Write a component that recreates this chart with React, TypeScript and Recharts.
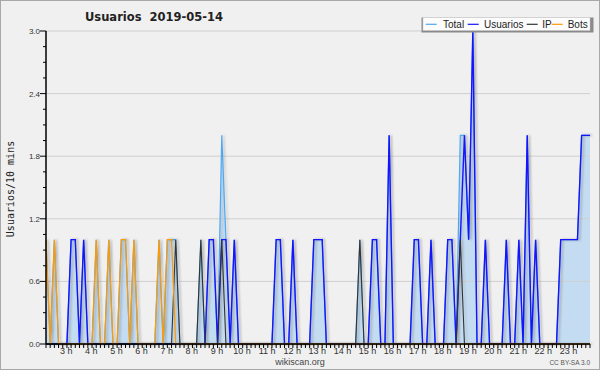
import React from 'react';
import { ComposedChart, Area, Line, XAxis, YAxis, ReferenceLine } from 'recharts';

// 10-minute samples from 02:20 to 24:00 (minutes since midnight)
const startMinute = 140;
const stepMinutes = 10;

const totalValues = [
  1, 0, 1, 0, 0, 0, 1, 1, 0, 1,
  0, 0, 1, 0, 0, 1, 0, 0, 1, 1,
  0, 1, 0, 0, 0, 0, 0, 1, 0, 1,
  1, 1, 0, 0, 0, 0, 0, 1, 0, 1,
  1, 0, 2, 1, 0, 1, 0, 0, 0, 0,
  0, 0, 0, 0, 0, 1, 1, 0, 0, 1,
  0, 0, 0, 0, 1, 1, 1, 0, 0, 0,
  0, 0, 0, 0, 0, 1, 0, 0, 1, 1,
  0, 0, 2, 0, 0, 0, 0, 0, 1, 1,
  0, 0, 1, 0, 0, 0, 1, 1, 0, 2,
  2, 1, 3, 0, 0, 1, 0, 0, 0, 0,
  1, 0, 0, 1, 0, 2, 0, 1, 0, 0,
  0, 0, 0, 1, 1, 1, 1, 1, 2, 2,
  2,
];

const usuariosValues = [
  0, 0, 0, 0, 0, 0, 1, 1, 0, 1,
  0, 0, 0, 0, 0, 0, 0, 0, 0, 0,
  0, 0, 0, 0, 0, 0, 0, 0, 0, 0,
  0, 0, 0, 0, 0, 0, 0, 0, 0, 1,
  1, 0, 1, 1, 0, 1, 0, 0, 0, 0,
  0, 0, 0, 0, 0, 1, 1, 0, 0, 1,
  0, 0, 0, 0, 1, 1, 1, 0, 0, 0,
  0, 0, 0, 0, 0, 0, 0, 0, 1, 1,
  0, 0, 2, 0, 0, 0, 0, 0, 1, 1,
  0, 0, 1, 0, 0, 0, 1, 1, 0, 1,
  2, 1, 3, 0, 0, 1, 0, 0, 0, 0,
  1, 0, 0, 1, 0, 2, 0, 1, 0, 0,
  0, 0, 0, 1, 1, 1, 1, 1, 2, 2,
  2,
];

const ipValues = [
  0, 0, 0, 0, 0, 0, 0, 0, 0, 0,
  0, 0, 0, 0, 0, 0, 0, 0, 0, 0,
  0, 0, 0, 0, 0, 0, 0, 0, 0, 0,
  0, 1, 0, 0, 0, 0, 0, 1, 0, 0,
  0, 0, 1, 0, 0, 0, 0, 0, 0, 0,
  0, 0, 0, 0, 0, 0, 0, 0, 0, 0,
  0, 0, 0, 0, 0, 0, 0, 0, 0, 0,
  0, 0, 0, 0, 0, 1, 0, 0, 0, 0,
  0, 0, 0, 0, 0, 0, 0, 0, 0, 0,
  0, 0, 0, 0, 0, 0, 0, 0, 0, 1,
  0, 0, 0, 0, 0, 0, 0, 0, 0, 0,
  0, 0, 0, 0, 0, 0, 0, 0, 0, 0,
  0, 0, 0, 0, 0, 0, 0, 0, 0, 0,
  0,
];

const botsValues = [
  1, 0, 1, 0, 0, 0, 0, 0, 0, 0,
  0, 0, 1, 0, 0, 1, 0, 0, 1, 1,
  0, 1, 0, 0, 0, 0, 0, 1, 0, 1,
  1, 0, 0, 0, 0, 0, 0, 0, 0, 0,
  0, 0, 0, 0, 0, 0, 0, 0, 0, 0,
  0, 0, 0, 0, 0, 0, 0, 0, 0, 0,
  0, 0, 0, 0, 0, 0, 0, 0, 0, 0,
  0, 0, 0, 0, 0, 0, 0, 0, 0, 0,
  0, 0, 0, 0, 0, 0, 0, 0, 0, 0,
  0, 0, 0, 0, 0, 0, 0, 0, 0, 0,
  0, 0, 0, 0, 0, 0, 0, 0, 0, 0,
  0, 0, 0, 0, 0, 0, 0, 0, 0, 0,
  0, 0, 0, 0, 0, 0, 0, 0, 0, 0,
  0,
];

const hourTicks = [180, 240, 300, 360, 420, 480, 540, 600, 660, 720, 780, 840, 900, 960, 1020, 1080, 1140, 1200, 1260, 1320, 1380];
const hourLabels = ['3 h', '4 h', '5 h', '6 h', '7 h', '8 h', '9 h', '10 h', '11 h', '12 h', '13 h', '14 h', '15 h', '16 h', '17 h', '18 h', '19 h', '20 h', '21 h', '22 h', '23 h'];

const yTicks = [0, 0.15, 0.3, 0.45, 0.6, 0.75, 0.9, 1.05, 1.2, 1.35, 1.5, 1.65, 1.8, 1.95, 2.1, 2.25, 2.4, 2.55, 2.7, 2.85, 3.0];
const yMajorTicks = [0, 0.6, 1.2, 1.8, 2.4, 3.0];
const yTickLabels = ['0.0', '0.6', '1.2', '1.8', '2.4', '3.0'];
const gridValues = [0.6, 1.2, 1.8, 2.4, 3.0];

const seriesNames = ['Total', 'Usuarios', 'IP', 'Bots'];
const seriesColors = ['#4fa8f2', '#1414ff', '#333333', '#ff9a00'];

const times = totalValues.map((_, i) => startMinute + stepMinutes * i);
const data = times.map((t, i) => ({
  t,
  total: totalValues[i],
  usuarios: usuariosValues[i],
  ip: ipValues[i],
  bots: botsValues[i],
}));

const SANS = '"Liberation Sans", Arial, sans-serif';

function XTick(props: any) {
  const { x, y, payload } = props;
  const idx = hourTicks.indexOf(payload.value);
  return (
    <g>
      <line x1={x} x2={x} y1={y} y2={y + 4} stroke="#000" strokeWidth={1} />
      {idx >= 0 && (
        <text x={x + 3.5} y={y + 9.5} textAnchor="middle" fontSize={9} fill="#333" fontFamily={SANS}>
          {hourLabels[idx]}
        </text>
      )}
    </g>
  );
}

function YTick(props: any) {
  const { x, y, payload } = props;
  const v = payload.value;
  const idx = yMajorTicks.findIndex((m) => Math.abs(m - v) < 1e-6);
  const major = idx >= 0;
  return (
    <g>
      <line x1={x - (major ? 6 : 3)} x2={x} y1={y} y2={y} stroke="#000" strokeWidth={1} />
      {major && (
        <text x={x - 6} y={y + 3} textAnchor="end" fontSize={8} fill="#333" fontFamily={SANS}>
          {yTickLabels[idx]}
        </text>
      )}
    </g>
  );
}

const shadow = 'drop-shadow(2px 0.5px 1px rgba(110,110,110,0.3))';

export default function App() {
  const legendX = [425.7, 467.7, 526.7, 551.7];
  const legendTextX = [443, 484, 542.3, 567.7];
  return (
    <div style={{ position: 'absolute', left: 0, top: 0, width: 600, height: 370, background: '#f0f0f0', overflow: 'hidden' }}>
      <ComposedChart width={600} height={370} data={data} margin={{ top: 31, right: 10, bottom: 0, left: 0 }}>
        <XAxis
          dataKey="t"
          type="number"
          domain={[startMinute, 1440]}
          ticks={times}
          interval={0}
          tick={<XTick />}
          tickLine={false}
          tickSize={0}
          tickMargin={0}
          height={26}
          axisLine={{ stroke: '#000', strokeWidth: 1.5 }}
        />
        <YAxis
          type="number"
          domain={[0, 3]}
          ticks={yTicks}
          interval={0}
          tick={<YTick />}
          tickLine={false}
          tickSize={0}
          tickMargin={0}
          width={46}
          axisLine={{ stroke: '#000', strokeWidth: 1.5 }}
        />
        {gridValues.map((v) => (
          <ReferenceLine key={v} y={v} stroke="#cfcfcf" strokeWidth={1} />
        ))}
        <Area dataKey="total" type="linear" stroke="none" fill="#c4dcf1" fillOpacity={1} isAnimationActive={false} />
        <Line dataKey="total" type="linear" stroke={seriesColors[0]} strokeWidth={1.2} dot={false} isAnimationActive={false} style={{ filter: shadow }} />
        <Line dataKey="usuarios" type="linear" stroke={seriesColors[1]} strokeWidth={1.4} dot={false} isAnimationActive={false} style={{ filter: shadow }} />
        <Line dataKey="ip" type="linear" stroke={seriesColors[2]} strokeWidth={1.1} dot={false} isAnimationActive={false} style={{ filter: shadow }} />
        <Line dataKey="bots" type="linear" stroke={seriesColors[3]} strokeWidth={1.2} dot={false} isAnimationActive={false} style={{ filter: shadow }} />
      </ComposedChart>
      <svg width={600} height={370} style={{ position: 'absolute', left: 0, top: 0, pointerEvents: 'none' }}>
        <rect x={0.5} y={0.5} width={599} height={369} fill="none" stroke="#a8a8a8" strokeWidth={1} />
        <text x={85} y={21} fontSize={11.5} fontWeight="bold" fill="#222" fontFamily='"DejaVu Sans", sans-serif' style={{ whiteSpace: 'pre' }}>
          {'Usuarios  2019-05-14'}
        </text>
        <text
          x={0}
          y={0}
          transform="translate(14, 189) rotate(-90)"
          textAnchor="middle"
          fontSize={10}
          fill="#222"
          fontFamily='"DejaVu Sans Mono", monospace'
        >
          Usuarios/10 mins
        </text>
        <text x={300} y={364.5} textAnchor="middle" fontSize={9} fill="#444" fontFamily={SANS}>
          wikiscan.org
        </text>
        <text x={590} y={365} textAnchor="end" fontSize={6.5} fill="#555" fontFamily={SANS}>
          CC BY-SA 3.0
        </text>
        <rect x={421.5} y={17.5} width={172} height={15} fill="#8a8a8a" />
        <rect x={423} y={17.5} width={167} height={13} fill="#fcfcfc" stroke="#c8c8c8" strokeWidth={0.5} />
        {seriesNames.map((name, i) => (
          <g key={name}>
            <line x1={legendX[i]} x2={legendX[i] + 11} y1={24.3} y2={24.3} stroke={seriesColors[i]} strokeWidth={1.2} />
            <text x={legendTextX[i]} y={28.3} fontSize={10} fill="#222" fontFamily={SANS}>
              {name}
            </text>
          </g>
        ))}
      </svg>
    </div>
  );
}
